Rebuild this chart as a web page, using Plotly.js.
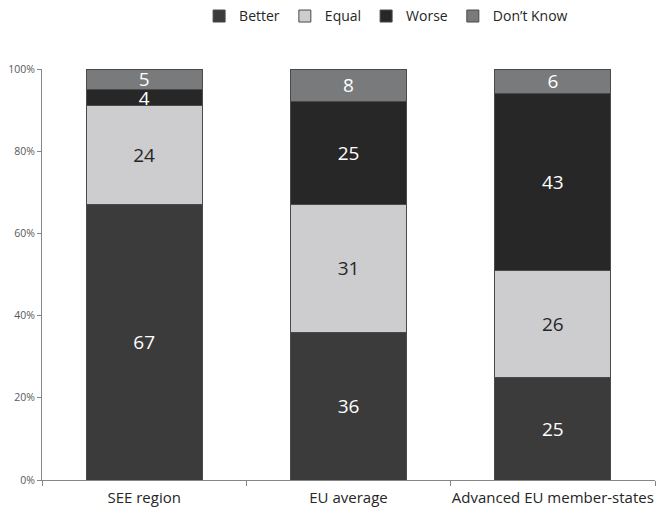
<!DOCTYPE html>
<html><head><meta charset="utf-8">
<script src="https://cdn.plot.ly/plotly-3.0.1.min.js"></script>
<style>body{margin:0;background:#fff}#chart{width:668px;height:513px}</style>
</head><body><div id="chart"></div>
<script>
const categories = ["SEE region", "EU average", "Advanced EU member-states"];
const better = [67, 36, 25];
const equal = [24, 31, 26];
const worse = [4, 25, 43];
const dontKnow = [5, 8, 6];
const yTicks = [0, 20, 40, 60, 80, 100];

const seriesDefs = [
  {name: "Better", vals: better, color: "#3b3b3b", text: "#ffffff"},
  {name: "Equal", vals: equal, color: "#cdcdcf", text: "#262626"},
  {name: "Worse", vals: worse, color: "#272727", text: "#ffffff"},
  {name: "Don\u2019t Know", vals: dontKnow, color: "#797a7c", text: "#ffffff"}
];
const font = "Open Sans, Liberation Sans, sans-serif";
const traces = seriesDefs.map(s => ({
  type: "bar", name: s.name, x: categories, y: s.vals,
  text: s.vals.map(String), textposition: "inside", insidetextanchor: "middle",
  constraintext: "none", textangle: 0,
  textfont: {family: font, size: 19, color: s.text},
  marker: {color: s.color, line: {color: "#4a4a4a", width: 1}},
  hoverinfo: "skip"
}));
const layout = {
  width: 668, height: 513, barmode: "stack", bargap: 0.433,
  margin: {l: 42, r: 13, t: 69, b: 33},
  paper_bgcolor: "#fff", plot_bgcolor: "#fff",
  font: {family: font, color: "#262626"},
  showlegend: true,
  legend: {orientation: "h", xref: "container", yref: "container", x: 0.578, xanchor: "center",
    y: 0.968, yanchor: "middle",
    font: {family: font, size: 14, color: "#262626"}, traceorder: "normal", itemwidth: 30,
    tracegroupgap: 0},
  xaxis: {showline: true, linecolor: "#868686", linewidth: 1, ticks: "outside", tickson: "boundaries",
    ticklen: 5, tickcolor: "#868686", tickangle: 0, ticklabelstandoff: 4,
    tickfont: {family: font, size: 15, color: "#262626"}, showgrid: false, zeroline: false},
  yaxis: {range: [0, 100], tickvals: yTicks, ticktext: yTicks.map(v => v + "%"), showline: true,
    linecolor: "#868686", linewidth: 1, ticks: "outside", ticklen: 4, tickcolor: "#868686",
    tickfont: {family: font, size: 10.5, color: "#595959"}, showgrid: false, zeroline: false}
};
Plotly.newPlot("chart", traces, layout, {displayModeBar: false, staticPlot: true});
</script></body></html>
